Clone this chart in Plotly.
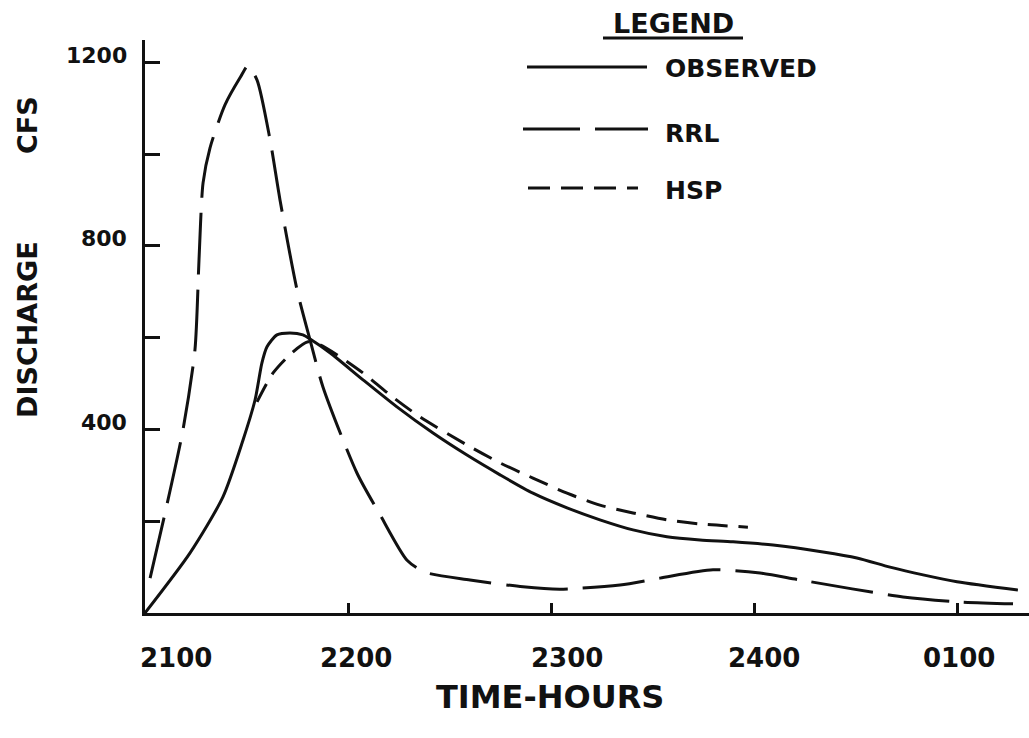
import plotly.graph_objects as go

# ---------------- data (hours after 2100, discharge in cfs) ----------------
hours_obs = [0.0, 0.222, 0.384, 0.483, 0.542, 0.576, 0.601, 0.650, 0.714, 0.778, 0.813,
             0.911, 1.074, 1.241, 1.419, 1.586, 1.749, 1.911, 2.079, 2.241, 2.404,
             2.571, 2.734, 2.897, 3.094, 3.340, 3.507, 3.670, 3.833, 4.000, 4.300]
q_obs = [0, 131, 253, 377, 464, 545, 580, 606, 610, 606, 597,
         567, 508, 449, 392, 344, 301, 261, 229, 203, 181,
         166, 159, 155, 148, 133, 120, 100, 83, 68, 50]

hours_rrl = [0.025, 0.099, 0.187, 0.246, 0.266, 0.286, 0.320, 0.394, 0.468, 0.507,
             0.552, 0.616, 0.665, 0.749, 0.813, 0.877, 1.044, 1.158, 1.291, 1.379,
             1.601, 1.862, 2.044, 2.340, 2.537, 2.798, 3.030, 3.227, 3.734, 4.015, 4.276]
q_rrl = [76, 218, 399, 573, 769, 937, 1013, 1107, 1166, 1192,
         1161, 1031, 900, 704, 595, 492, 305, 214, 115, 89,
         72, 57, 52, 61, 76, 94, 87, 72, 35, 24, 20]

hours_hsp = [0.552, 0.631, 0.724, 0.803, 0.862, 0.961, 1.074, 1.207, 1.355, 1.586,
             1.749, 1.911, 2.079, 2.241, 2.404, 2.571, 2.734, 2.970]
q_hsp = [460, 523, 567, 591, 584, 558, 523, 475, 427, 366,
         327, 294, 261, 235, 218, 203, 194, 187]

series_names = ["OBSERVED", "RRL", "HSP"]
x_tick_vals = [0, 1, 2, 3, 4]
x_tick_text = ["2100", "2200", "2300", "2400", "0100"]
y_tick_vals = [200, 400, 600, 800, 1000, 1200]
y_label_vals = [400, 800, 1200]
y_label_text = ["400", "800", "1200"]
x_title = "TIME-HOURS"
y_title_words = ["DISCHARGE", "CFS"]
legend_title = "LEGEND"

# ---------------- layout geometry ----------------
W, H = 1029, 738
L, R, T, B = 145, 0, 40, 125
PW, PH = W - L - R, H - T - B
X_MAX = PW / 203.0
Y_MAX = PH / 91.8 * 200

FONT = "DejaVu Sans"
INK = "#111111"


def px(xp):
    return (xp - L) / PW


def py(yp):
    return (T + PH - yp) / PH


def fnt(size):
    return dict(family=FONT, size=size, color=INK, weight="bold")


dashes = ["solid", "62px,15px", "20px,11px"]
xs = [hours_obs, hours_rrl, hours_hsp]
ys = [q_obs, q_rrl, q_hsp]

fig = go.Figure()
for name, xv, yv, d in zip(series_names, xs, ys, dashes):
    fig.add_trace(go.Scatter(
        x=xv, y=yv, mode="lines", name=name,
        line=dict(color=INK, width=3, dash=d, shape="spline", smoothing=0.7),
        showlegend=False, hoverinfo="skip"))

annotations = []
# x tick labels
x_shift = [31, 8, 16, 10, 2]
for v, t, s in zip(x_tick_vals, x_tick_text, x_shift):
    annotations.append(dict(x=v, xref="x", y=py(658), yref="paper", text=t,
                            showarrow=False, xanchor="center", yanchor="middle",
                            xshift=s, font=fnt(26)))
# y tick labels
for v, t in zip(y_label_vals, y_label_text):
    annotations.append(dict(x=0, xref="paper", y=v, yref="y", text=t,
                            showarrow=False, xanchor="right", yanchor="middle",
                            xshift=-16, yshift=7, font=fnt(22)))
# axis titles
annotations.append(dict(x=px(550), xref="paper", y=py(697), yref="paper", text=x_title,
                        showarrow=False, xanchor="center", yanchor="middle", font=fnt(32)))
annotations.append(dict(x=px(27), xref="paper", y=py(330), yref="paper", text=y_title_words[0],
                        showarrow=False, textangle=-90, xanchor="center", yanchor="middle",
                        font=fnt(27)))
annotations.append(dict(x=px(27), xref="paper", y=py(125), yref="paper", text=y_title_words[1],
                        showarrow=False, textangle=-90, xanchor="center", yanchor="middle",
                        font=fnt(27)))
# legend
annotations.append(dict(x=px(673), xref="paper", y=py(23), yref="paper", text=legend_title,
                        showarrow=False, xanchor="center", yanchor="middle", font=fnt(27)))
leg_rows = [69, 133, 190]
leg_line_y = [67, 129, 188]
leg_line_x = [(527, 647), (523, 648), (528, 638)]
leg_dash = ["solid", "57px,15px", "22px,11px"]
shapes = [dict(type="line", xref="paper", yref="paper", x0=px(603), x1=px(743),
               y0=py(38), y1=py(38), line=dict(color=INK, width=3))]
for name, ry, ly, (lx0, lx1), d in zip(series_names, leg_rows, leg_line_y, leg_line_x, leg_dash):
    annotations.append(dict(x=px(663), xref="paper", y=py(ry), yref="paper", text=name,
                            showarrow=False, xanchor="left", yanchor="middle", font=fnt(25)))
    shapes.append(dict(type="line", xref="paper", yref="paper", x0=px(lx0), x1=px(lx1),
                       y0=py(ly), y1=py(ly), line=dict(color=INK, width=3, dash=d)))

fig.update_layout(
    width=W, height=H,
    margin=dict(l=L, r=R, t=T, b=B, pad=0),
    paper_bgcolor="white", plot_bgcolor="white",
    annotations=annotations, shapes=shapes,
    showlegend=False,
    xaxis=dict(range=[0, X_MAX], showgrid=False, zeroline=False, showline=True,
               linecolor=INK, linewidth=3, ticks="inside", ticklen=10, tickwidth=3,
               tickcolor=INK, tickvals=x_tick_vals[1:], showticklabels=False,
               fixedrange=True),
    yaxis=dict(range=[0, Y_MAX], showgrid=False, zeroline=False, showline=True,
               linecolor=INK, linewidth=3, ticks="inside", ticklen=15, tickwidth=3,
               tickcolor=INK, tickvals=y_tick_vals, showticklabels=False,
               fixedrange=True),
)

fig.write_html("out.html", config={"displayModeBar": False},
               post_script="document.body.style.margin='0';document.body.style.overflow='hidden';")
